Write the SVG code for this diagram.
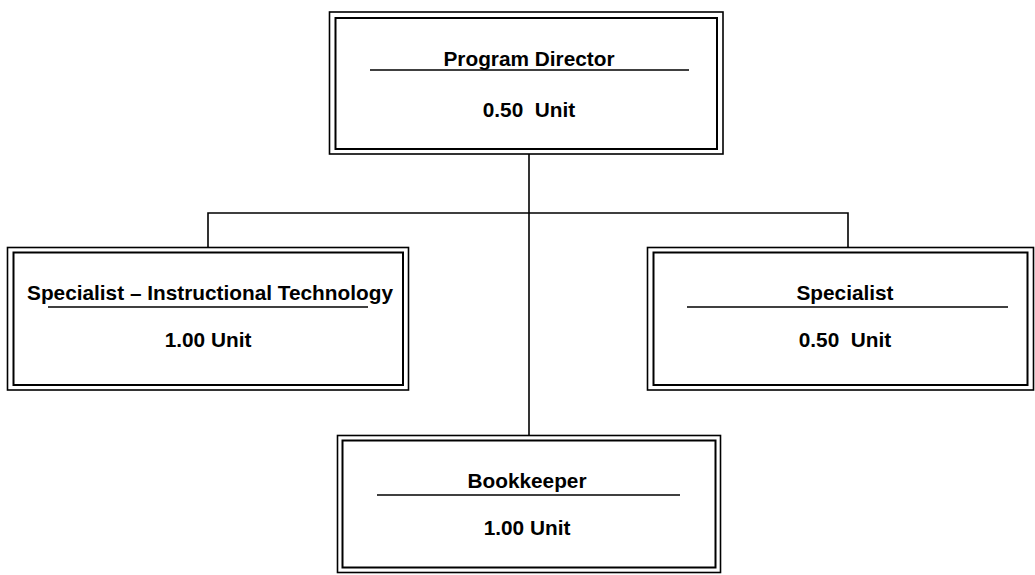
<svg xmlns="http://www.w3.org/2000/svg" width="1035" height="575" viewBox="0 0 1035 575">
<style>
.o{fill:none;stroke:#000;stroke-width:1.6}
.i{fill:#fff;stroke:#000;stroke-width:2}
.u{stroke:#000;stroke-width:1.6}
.c{fill:none;stroke:#000;stroke-width:1.6}
text{font-family:"Liberation Sans",Arial,sans-serif;font-weight:bold;font-size:20.8px;text-anchor:middle;fill:#000}
</style>
<rect width="1035" height="575" fill="#fff"/>
<g id="connectors">
<path class="c" d="M529 154V436"/>
<path class="c" d="M208 248V213H848V248"/>
</g>
<g id="director">
<rect class="o" x="329.5" y="12" width="393.5" height="142"/>
<rect class="i" x="335.5" y="18" width="381.5" height="131"/>
<text x="529" y="66">Program Director</text>
<line class="u" x1="370" y1="70" x2="689" y2="70"/>
<text x="529" y="117" xml:space="preserve">0.50  Unit</text>
</g>
<g id="specialist-it">
<rect class="o" x="7.5" y="247.5" width="401" height="142.5"/>
<rect class="i" x="13.5" y="252.5" width="389.5" height="132.5"/>
<text x="210" y="300">Specialist – Instructional Technology</text>
<line class="u" x1="48" y1="307" x2="368" y2="307"/>
<text x="208" y="347">1.00 Unit</text>
</g>
<g id="specialist">
<rect class="o" x="647.5" y="247.5" width="386" height="142.5"/>
<rect class="i" x="653.5" y="252.5" width="374" height="132.5"/>
<text x="845" y="300">Specialist</text>
<line class="u" x1="687" y1="307" x2="1008" y2="307"/>
<text x="845" y="347" xml:space="preserve">0.50  Unit</text>
</g>
<g id="bookkeeper">
<rect class="o" x="337.5" y="435.5" width="383" height="137"/>
<rect class="i" x="342.5" y="440.5" width="373" height="127"/>
<text x="527" y="488">Bookkeeper</text>
<line class="u" x1="377" y1="495" x2="680" y2="495"/>
<text x="527" y="535">1.00 Unit</text>
</g>
</svg>
